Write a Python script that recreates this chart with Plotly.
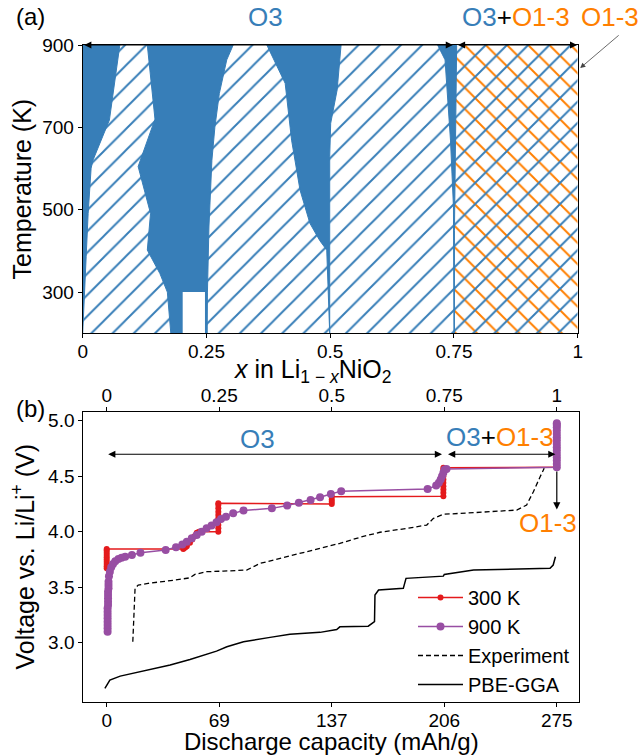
import plotly.graph_objects as go

BLUE = '#377eb8'
ORANGE = '#ff7f00'
RED = '#e41a1c'
PURPLE = '#984ea3'
FONT = 'Liberation Sans, Arial, sans-serif'

# ---------------- Panel (a): phase diagram ----------------
T_range = [200, 900]
o3_span = [0.0, 0.75]
mix_span = [0.75, 1.0]

# two-phase (solid) regions: boundaries x(T)
r1_T = [900, 718, 621, 601, 491, 386, 281, 200]
r1_right = [0.075, 0.054, 0.021, 0.017, 0.011, 0.007, 0.003, 0.0]

r2_left_T = [900, 720, 605, 491, 402, 345, 300, 200]
r2_left_x = [0.1305, 0.146, 0.112, 0.137, 0.1305, 0.156, 0.171, 0.178]
r2_right_T = [900, 864, 782, 700, 620, 458, 300, 200]
r2_right_x = [0.304, 0.291, 0.276, 0.267, 0.261, 0.255, 0.252, 0.2515]
gap_x = [0.202, 0.247]
gap_T = [200, 300]

r3_left_T = [900, 807, 669, 548, 467, 425, 402, 200]
r3_left_x = [0.372, 0.409, 0.422, 0.439, 0.459, 0.479, 0.493, 0.498]
r3_right_T = [900, 791, 710, 629, 402, 200]
r3_right_x = [0.522, 0.514, 0.501, 0.499, 0.499, 0.499]

r4_left_T = [900, 864, 669, 507, 200]
r4_left_x = [0.717, 0.732, 0.743, 0.749, 0.750]
r4_right_T = [900, 600, 450, 200]
r4_right_x = [0.7555, 0.753, 0.751, 0.751]

# ---------------- Panel (b): voltage profiles ----------------
red_x = [0, 0, 0, 0, 0, 0, 0, 0, 0, 0,
         0.170, 0.172, 0.175, 0.178, 0.185, 0.190, 0.195, 0.200, 0.205,
         0.248, 0.248, 0.248, 0.248, 0.248, 0.248, 0.248, 0.248, 0.248, 0.248,
         0.500, 0.500, 0.500, 0.500,
         0.748, 0.748, 0.748, 0.748, 0.748, 0.748, 0.748, 0.748, 0.748, 0.748,
         1.000]
red_V = [3.67, 3.69, 3.71, 3.73, 3.75, 3.77, 3.79, 3.81, 3.83, 3.845,
         3.845, 3.85, 3.86, 3.87, 3.90, 3.93, 3.96, 3.99, 4.00,
         4.00, 4.03, 4.06, 4.09, 4.12, 4.15, 4.18, 4.21, 4.24, 4.255,
         4.25, 4.27, 4.29, 4.315,
         4.32, 4.35, 4.38, 4.41, 4.44, 4.47, 4.50, 4.53, 4.56, 4.575,
         4.58]

purple_x = [0.002, 0.002, 0.002, 0.002, 0.002, 0.002, 0.002, 0.002, 0.003, 0.003,
            0.003, 0.003, 0.003, 0.004, 0.004, 0.004, 0.005, 0.007, 0.010, 0.014,
            0.019, 0.026, 0.033, 0.041, 0.056, 0.075, 0.131, 0.154, 0.168, 0.178,
            0.189, 0.200, 0.211, 0.222, 0.233, 0.244, 0.254, 0.265, 0.281, 0.304,
            0.367, 0.401, 0.427, 0.453, 0.474, 0.498, 0.521, 0.713, 0.732, 0.738,
            0.742, 0.745, 0.748, 0.751, 0.755, 1.000, 1.000, 1.000, 1.000, 1.000,
            1.000, 1.000, 1.000, 1.000, 1.000, 1.000, 1.000, 1.000, 1.000, 1.000]
purple_V = [3.10, 3.13, 3.16, 3.19, 3.22, 3.25, 3.28, 3.31, 3.34, 3.37,
            3.40, 3.43, 3.46, 3.49, 3.52, 3.55, 3.60, 3.64, 3.68, 3.71,
            3.735, 3.754, 3.765, 3.775, 3.79, 3.81, 3.835, 3.86, 3.885, 3.91,
            3.94, 3.97, 4.00, 4.03, 4.055, 4.085, 4.115, 4.135, 4.165, 4.19,
            4.21, 4.235, 4.26, 4.285, 4.31, 4.34, 4.365, 4.385, 4.415, 4.44,
            4.47, 4.50, 4.53, 4.56, 4.565, 4.58, 4.61, 4.64, 4.67, 4.70,
            4.73, 4.76, 4.79, 4.82, 4.85, 4.88, 4.91, 4.94, 4.96, 4.977]

exp_x = [0.058, 0.060, 0.062, 0.063, 0.070, 0.092, 0.152, 0.185, 0.196, 0.222,
         0.259, 0.311, 0.341, 0.385, 0.459, 0.518, 0.563, 0.607, 0.667, 0.711,
         0.726, 0.748, 0.815, 0.911, 0.933, 0.948, 0.963, 0.972]
exp_V = [3.01, 3.20, 3.40, 3.49, 3.52, 3.535, 3.565, 3.585, 3.616, 3.64,
         3.645, 3.655, 3.715, 3.76, 3.83, 3.895, 3.95, 3.995, 4.03, 4.06,
         4.12, 4.157, 4.171, 4.195, 4.24, 4.36, 4.495, 4.571]

gga_x = [-0.004, 0.007, 0.030, 0.074, 0.141, 0.185, 0.244, 0.267, 0.304, 0.363,
         0.407, 0.474, 0.511, 0.518, 0.581, 0.595, 0.596, 0.604, 0.659, 0.665,
         0.748, 0.750, 0.815, 0.985, 0.992, 0.997]
gga_V = [2.59, 2.664, 2.70, 2.74, 2.80, 2.85, 2.925, 2.964, 3.009, 3.049,
         3.076, 3.094, 3.12, 3.144, 3.15, 3.19, 3.43, 3.475, 3.49, 3.58,
         3.60, 3.615, 3.655, 3.67, 3.70, 3.775]

frac_ticks = [0, 0.25, 0.5, 0.75, 1]
frac_labels = ['0', '0.25', '0.5', '0.75', '1']
cap_labels = ['0', '69', '137', '206', '275']
T_ticks = [300, 500, 700, 900]
V_ticks = [3.0, 3.5, 4.0, 4.5, 5.0]
V_labels = ['3.0', '3.5', '4.0', '4.5', '5.0']

fig = go.Figure()

def rect(xs, ys):
    return [xs[0], xs[1], xs[1], xs[0], xs[0]], [ys[0], ys[0], ys[1], ys[1], ys[0]]

HATCH = dict(size=15, solidity=0.13, fgopacity=1)
# hatched single-phase background
hx, hy = rect(o3_span, T_range)
fig.add_trace(go.Scatter(x=hx, y=hy, fill='toself', mode='lines', line=dict(width=0),
                         fillcolor=BLUE,
                         fillpattern=dict(shape='/', fgcolor=BLUE, bgcolor='white', **HATCH),
                         showlegend=False, hoverinfo='skip', xaxis='x', yaxis='y'))
mx, my = rect(mix_span, T_range)
fig.add_trace(go.Scatter(x=mx, y=my, fill='toself', mode='lines', line=dict(width=0),
                         fillcolor=ORANGE,
                         fillpattern=dict(shape='\\', fgcolor=ORANGE, bgcolor='white', **HATCH),
                         showlegend=False, hoverinfo='skip', xaxis='x', yaxis='y'))
fig.add_trace(go.Scatter(x=mx, y=my, fill='toself', mode='lines', line=dict(width=0),
                         fillcolor=BLUE,
                         fillpattern=dict(shape='/', fgcolor=BLUE, bgcolor='rgba(255,255,255,0)', **HATCH),
                         showlegend=False, hoverinfo='skip', xaxis='x', yaxis='y'))

def solid(px, py):
    fig.add_trace(go.Scatter(x=px, y=py, fill='toself', mode='lines',
                             line=dict(width=1, color=BLUE), fillcolor=BLUE,
                             showlegend=False, hoverinfo='skip', xaxis='x', yaxis='y'))

solid([0] + r1_right + [0], [900] + r1_T + [200])
solid(r2_left_x + r2_right_x[::-1], r2_left_T + r2_right_T[::-1])
solid(r3_left_x + r3_right_x[::-1], r3_left_T + r3_right_T[::-1])
solid(r4_left_x + r4_right_x[::-1], r4_left_T + r4_right_T[::-1])
gx, gy = rect(gap_x, gap_T)
fig.add_trace(go.Scatter(x=gx, y=gy, fill='toself', mode='lines', line=dict(width=0),
                         fillcolor='white', showlegend=False, hoverinfo='skip', xaxis='x', yaxis='y'))

# panel (b)
fig.add_trace(go.Scatter(x=red_x, y=red_V, mode='lines+markers', name='300 K',
                         line=dict(color=RED, width=1.5), marker=dict(color=RED, size=6),
                         xaxis='x2', yaxis='y2'))
fig.add_trace(go.Scatter(x=purple_x, y=purple_V, mode='lines+markers', name='900 K',
                         line=dict(color=PURPLE, width=1.5), marker=dict(color=PURPLE, size=8),
                         xaxis='x2', yaxis='y2'))
fig.add_trace(go.Scatter(x=exp_x, y=exp_V, mode='lines', name='Experiment',
                         line=dict(color='black', width=1.3, dash='5px,3px'),
                         xaxis='x2', yaxis='y2'))
fig.add_trace(go.Scatter(x=gga_x, y=gga_V, mode='lines', name='PBE-GGA',
                         line=dict(color='black', width=1.5),
                         xaxis='x2', yaxis='y2'))
# invisible anchor trace for the top (x fraction) axis
fig.add_trace(go.Scatter(x=[0, 1], y=[3, 3], mode='markers', marker=dict(opacity=0),
                         showlegend=False, hoverinfo='skip', xaxis='x3', yaxis='y2'))

ax_common = dict(showline=True, linecolor='black', linewidth=1, mirror=True, ticks='outside',
                 ticklen=4, tickcolor='black', showgrid=False, zeroline=False, automargin=False,
                 tickfont=dict(size=19, color='black', family=FONT))

W, H = 642, 755
fig.update_layout(
    width=W, height=H, margin=dict(l=0, r=0, t=0, b=0, pad=0, autoexpand=False),
    paper_bgcolor='white', plot_bgcolor='white',
    font=dict(family=FONT, color='black'),
    xaxis=dict(domain=[82.7 / W, 577.7 / W], range=[0, 1], anchor='y',
               tickvals=frac_ticks, ticktext=frac_labels, ticklabelstandoff=-3, **ax_common),
    yaxis=dict(domain=[1 - 333.3 / H, 1 - 45 / H], range=T_range, anchor='x',
               tickvals=T_ticks,
               title=dict(text='Temperature (K)', font=dict(size=25), standoff=3), **ax_common),
    xaxis2=dict(domain=[83.3 / W, 579.3 / W], range=[-0.052, 1.05], anchor='y2',
                tickvals=frac_ticks, ticktext=cap_labels, ticklabelstandoff=-3,
                title=dict(text='Discharge capacity (mAh/g)', font=dict(size=24), standoff=5),
                **ax_common),
    xaxis3=dict(overlaying='x2', side='top', anchor='y2', range=[-0.052, 1.05],
                tickvals=frac_ticks, ticktext=frac_labels, showline=False, ticks='outside',
                ticklen=4, tickcolor='black', showgrid=False, zeroline=False, automargin=False,
                ticklabelstandoff=-3,
                tickfont=dict(size=19, color='black', family=FONT)),
    yaxis2=dict(domain=[1 - 701.7 / H, 1 - 411.7 / H], range=[2.47, 5.08], anchor='x2',
                tickvals=V_ticks, ticktext=V_labels,
                title=dict(text='Voltage vs. Li/Li<sup>+</sup> (V)', font=dict(size=25), standoff=6),
                **ax_common),
    legend=dict(x=413 / W, y=1 - 578 / H, xanchor='left', yanchor='top', bgcolor='rgba(0,0,0,0)',
                font=dict(size=20, family=FONT), itemwidth=45, tracegroupgap=0),
)

ann = []
def arrow(x0, y0, x1, y1, xr, yr, both=True, width=1.2, size=1.2):
    ann.append(dict(x=x1, y=y1, ax=x0, ay=y0, xref=xr, yref=yr, axref=xr, ayref=yr,
                    text='', showarrow=True, arrowhead=2, arrowsize=size, arrowwidth=width,
                    arrowcolor='black', arrowside='end+start' if both else 'end'))

def label(text, x, y, xr, yr, color, size=26):
    ann.append(dict(x=x, y=y, xref=xr, yref=yr, text=text, showarrow=False,
                    xanchor='center', yanchor='middle',
                    font=dict(size=size, color=color, family=FONT)))

mix_label = f"<span style='color:{BLUE}'>O3</span>+<span style='color:{ORANGE}'>O1-3</span>"
# panel (a): x-axis title and labels above the frame (axis-domain coordinates)
label('<i>x</i> in Li<sub>1 − <i>x</i></sub>NiO<sub>2</sub>', 0.465, -0.13,
      'x domain', 'y domain', 'black', size=25)
arrow(0.0, 900, 0.748, 900, 'x', 'y')
arrow(0.755, 900, 0.999, 900, 'x', 'y')
label('O3', 0.37, 1.097, 'x domain', 'y domain', BLUE)
label(mix_label, 0.875, 1.097, 'x domain', 'y domain', 'black')
label('O1-3', 1.065, 1.097, 'x domain', 'y domain', ORANGE)
ann.append(dict(x=1.005, y=0.92, xref='x domain', yref='y domain', ax=40, ay=-34, text='',
                showarrow=True, arrowhead=2, arrowsize=1.3, arrowwidth=0.8, arrowcolor='#444'))
# panel (b)
arrow(0.0, 4.697, 0.745, 4.697, 'x2', 'y2')
arrow(0.755, 4.697, 0.997, 4.697, 'x2', 'y2')
arrow(1.0, 4.556, 1.0, 4.2, 'x2', 'y2', both=False)
label('O3', 0.336, 4.83, 'x2', 'y2', BLUE)
label(mix_label, 0.874, 4.85, 'x2', 'y2', 'black')
label('O1-3', 0.98, 4.08, 'x2', 'y2', ORANGE)
# panel tags
label('(a)', 30 / W, 1 - 17 / H, 'paper', 'paper', 'black', size=24)
label('(b)', 30 / W, 1 - 408 / H, 'paper', 'paper', 'black', size=24)
fig.update_layout(annotations=ann)

fig.write_html('out.html', post_script="document.body.style.margin='0';")
